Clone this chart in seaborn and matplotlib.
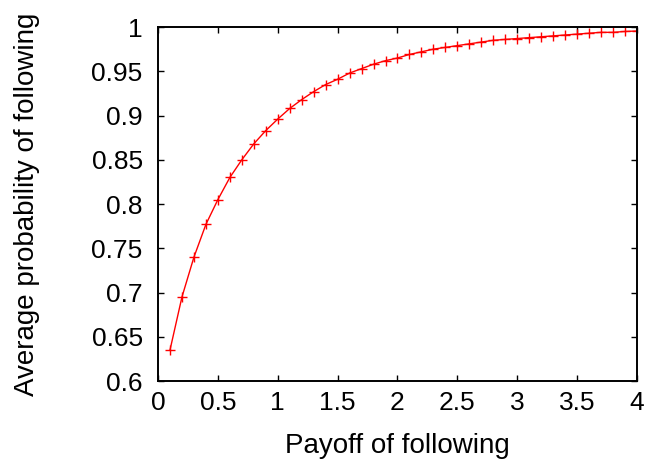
import matplotlib
matplotlib.use("Agg")
import matplotlib.pyplot as plt
import seaborn as sns
import pandas as pd

payoff = [0.1, 0.2, 0.3, 0.4, 0.5, 0.6, 0.7, 0.8, 0.9, 1.0,
          1.1, 1.2, 1.3, 1.4, 1.5, 1.6, 1.7, 1.8, 1.9, 2.0,
          2.1, 2.2, 2.3, 2.4, 2.5, 2.6, 2.7, 2.8, 2.9, 3.0,
          3.1, 3.2, 3.3, 3.4, 3.5, 3.6, 3.7, 3.8, 3.9, 4.0]
probability = [0.635, 0.695, 0.740, 0.777, 0.805, 0.830, 0.850, 0.868, 0.883, 0.896,
               0.908, 0.918, 0.927, 0.935, 0.941, 0.948, 0.953, 0.958, 0.962, 0.965,
               0.969, 0.972, 0.975, 0.977, 0.979, 0.981, 0.983, 0.985, 0.986, 0.987,
               0.988, 0.989, 0.990, 0.991, 0.992, 0.993, 0.994, 0.994, 0.995, 0.9955]
x_ticks = [0, 0.5, 1, 1.5, 2, 2.5, 3, 3.5, 4]
x_labels = ["0", "0.5", "1", "1.5", "2", "2.5", "3", "3.5", "4"]
y_ticks = [0.6, 0.65, 0.7, 0.75, 0.8, 0.85, 0.9, 0.95, 1.0]
y_labels = ["0.6", "0.65", "0.7", "0.75", "0.8", "0.85", "0.9", "0.95", "1"]

sns.set_theme(style="white")
plt.rcParams["font.family"] = ["Liberation Sans", "DejaVu Sans"]

df = pd.DataFrame({"x": payoff, "y": probability})

fig = plt.figure(figsize=(6.62, 4.66), dpi=100)
ax = fig.add_axes([0.2387, 0.1824, 0.7235, 0.7596])
sns.lineplot(data=df, x="x", y="y", ax=ax, color="red", linewidth=1.0,
             marker="+", markersize=6.5, markeredgewidth=1.0, markeredgecolor="red")

ax.set_xlim(0, 4)
ax.set_ylim(0.6, 1.0)
ax.set_xticks(x_ticks)
ax.set_xticklabels(x_labels)
ax.set_yticks(y_ticks)
ax.set_yticklabels(y_labels)
ax.tick_params(direction="in", length=4.5, width=1, colors="black", labelsize=19,
               top=True, right=True, bottom=True, left=True)
ax.tick_params(axis="y", pad=11)
ax.tick_params(axis="x", pad=7)
for s in ax.spines.values():
    s.set_visible(True)
    s.set_color("black")
    s.set_linewidth(1.4)
ax.set_xlabel("Payoff of following", fontsize=20, color="black", labelpad=13)
ax.set_ylabel("Average probability of following", fontsize=20, color="black", labelpad=37)

fig.savefig("out.png", dpi=100)
